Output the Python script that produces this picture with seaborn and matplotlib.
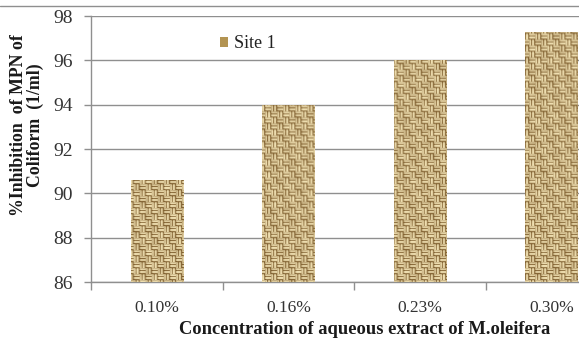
import numpy as np
import pandas as pd
import matplotlib
matplotlib.use("Agg")
import matplotlib.pyplot as plt
from matplotlib.lines import Line2D
from matplotlib.patches import Patch
from matplotlib.ticker import FixedLocator
import seaborn as sns

# Inhibition of coliform MPN per extract concentration
concentrations = ["0.10%", "0.16%", "0.23%", "0.30%"]
inhibition = [90.6, 94.0, 96.0, 97.3]
series_name = "Site 1"
y_ticks = [86, 88, 90, 92, 94, 96, 98]

df = pd.DataFrame({"conc": concentrations, "inhib": inhibition,
                   "site": [series_name] * len(concentrations)})

sns.set_theme(style="white")
plt.rcParams["font.family"] = ["Liberation Serif", "DejaVu Serif"]

W, H = 579, 343
fig = plt.figure(figsize=(W / 100, H / 100), dpi=100)
fig.patch.set_facecolor("white")

# plot area in pixels (extends past the right edge of the canvas)
left_px, top_px, bottom_px, cat_px = 91.25, 16.0, 282.0, 131.5
ax_w_px = 4 * cat_px
ax_h_px = bottom_px - top_px
ax = fig.add_axes([left_px / W, 1 - bottom_px / H, ax_w_px / W, ax_h_px / H])

base_tan = "#cdb276"
sns.barplot(data=df, x="conc", y="inhib", hue="site", palette=[base_tan],
            width=0.4, ax=ax, legend=False, zorder=3, linewidth=0)

ax.set_ylim(86, 98)
ax.set_xlim(-0.5, 3.5)
ax.set_yticks(y_ticks)
ax.yaxis.grid(True, color="#8f8f8f", linewidth=1.0, zorder=0)
ax.set_axisbelow(True)

# woven burlap texture laid over each bar (basket weave of 6 px blocks)
th, tw = int(ax_h_px), int(ax_w_px)
yy, xx = np.mgrid[0:th, 0:tw]
bs = 6
block = ((xx // bs) + (yy // bs)) % 2
stripe_h = (yy % 3 != 2).astype(float)
stripe_v = (xx % 3 != 2).astype(float)
thread = np.where(block == 0, stripe_h, stripe_v)
# edges of blocks darker for the interlacing look
edge = (((xx % bs) == 0) | ((yy % bs) == 0)).astype(float)
shade = 0.10 * np.sin(xx / 4.3 + yy / 6.1) * np.cos(yy / 3.7 - xx / 8.3)
t = np.clip(0.15 + 0.75 * thread - 0.25 * edge + shade, 0, 1)
dark = np.array([128, 96, 48]) / 255.0
light = np.array([240, 224, 178]) / 255.0
tex = dark[None, None, :] + (light - dark)[None, None, :] * t[..., None]

for bar in ax.patches:
    im = ax.imshow(tex, extent=(-0.5, 3.5, 86, 98), origin="upper",
                   interpolation="bilinear", aspect="auto", zorder=4)
    im.set_clip_path(bar)
ax.set_xlim(-0.5, 3.5)
ax.set_ylim(86, 98)

for side in ["top", "right"]:
    ax.spines[side].set_visible(False)
for side in ["left", "bottom"]:
    ax.spines[side].set_color("#8f8f8f")
    ax.spines[side].set_linewidth(1.0)

ax.tick_params(axis="y", which="major", length=5, width=1, color="#8f8f8f",
               direction="out", labelsize=14, labelcolor="#333333", pad=8, left=True)
ax.tick_params(axis="x", which="major", length=0, labelsize=12.5,
               labelcolor="#333333", pad=13)
ax.xaxis.set_minor_locator(FixedLocator([-0.5, 0.5, 1.5, 2.5, 3.5]))
ax.tick_params(axis="x", which="minor", length=6, width=1, color="#8f8f8f",
               direction="out", bottom=True)
ax.set_xlabel("")
ax.set_ylabel("")

fig.text(365 / W, 1 - 330 / H, "Concentration of aqueous extract of M.oleifera",
         ha="center", va="center", fontsize=13.3, fontweight="bold", color="#1a1a1a")
fig.text(27 / W, 1 - 125 / H, "%Inhibition  of MPN of\nColiform  (1/ml)",
         ha="center", va="center", rotation=90, fontsize=12.8, fontweight="bold",
         multialignment="center", linespacing=1.05, color="#1a1a1a")

# legend
handle = Patch(facecolor="#b39452", edgecolor="none")
ax.legend([handle], [series_name], loc="center left",
          bbox_to_anchor=((220 - left_px) / ax_w_px, 1 - (44 - top_px) / ax_h_px),
          frameon=False, handlelength=0.42, handleheight=0.42, handletextpad=0.35,
          borderpad=0, borderaxespad=0, fontsize=13, labelcolor="#222222")

# chart area border at the top
fig.add_artist(Line2D([0, 1], [1 - 6 / H, 1 - 6 / H], transform=fig.transFigure,
                      color="#8f8f8f", linewidth=1.0))

fig.savefig("out.png", dpi=100)
